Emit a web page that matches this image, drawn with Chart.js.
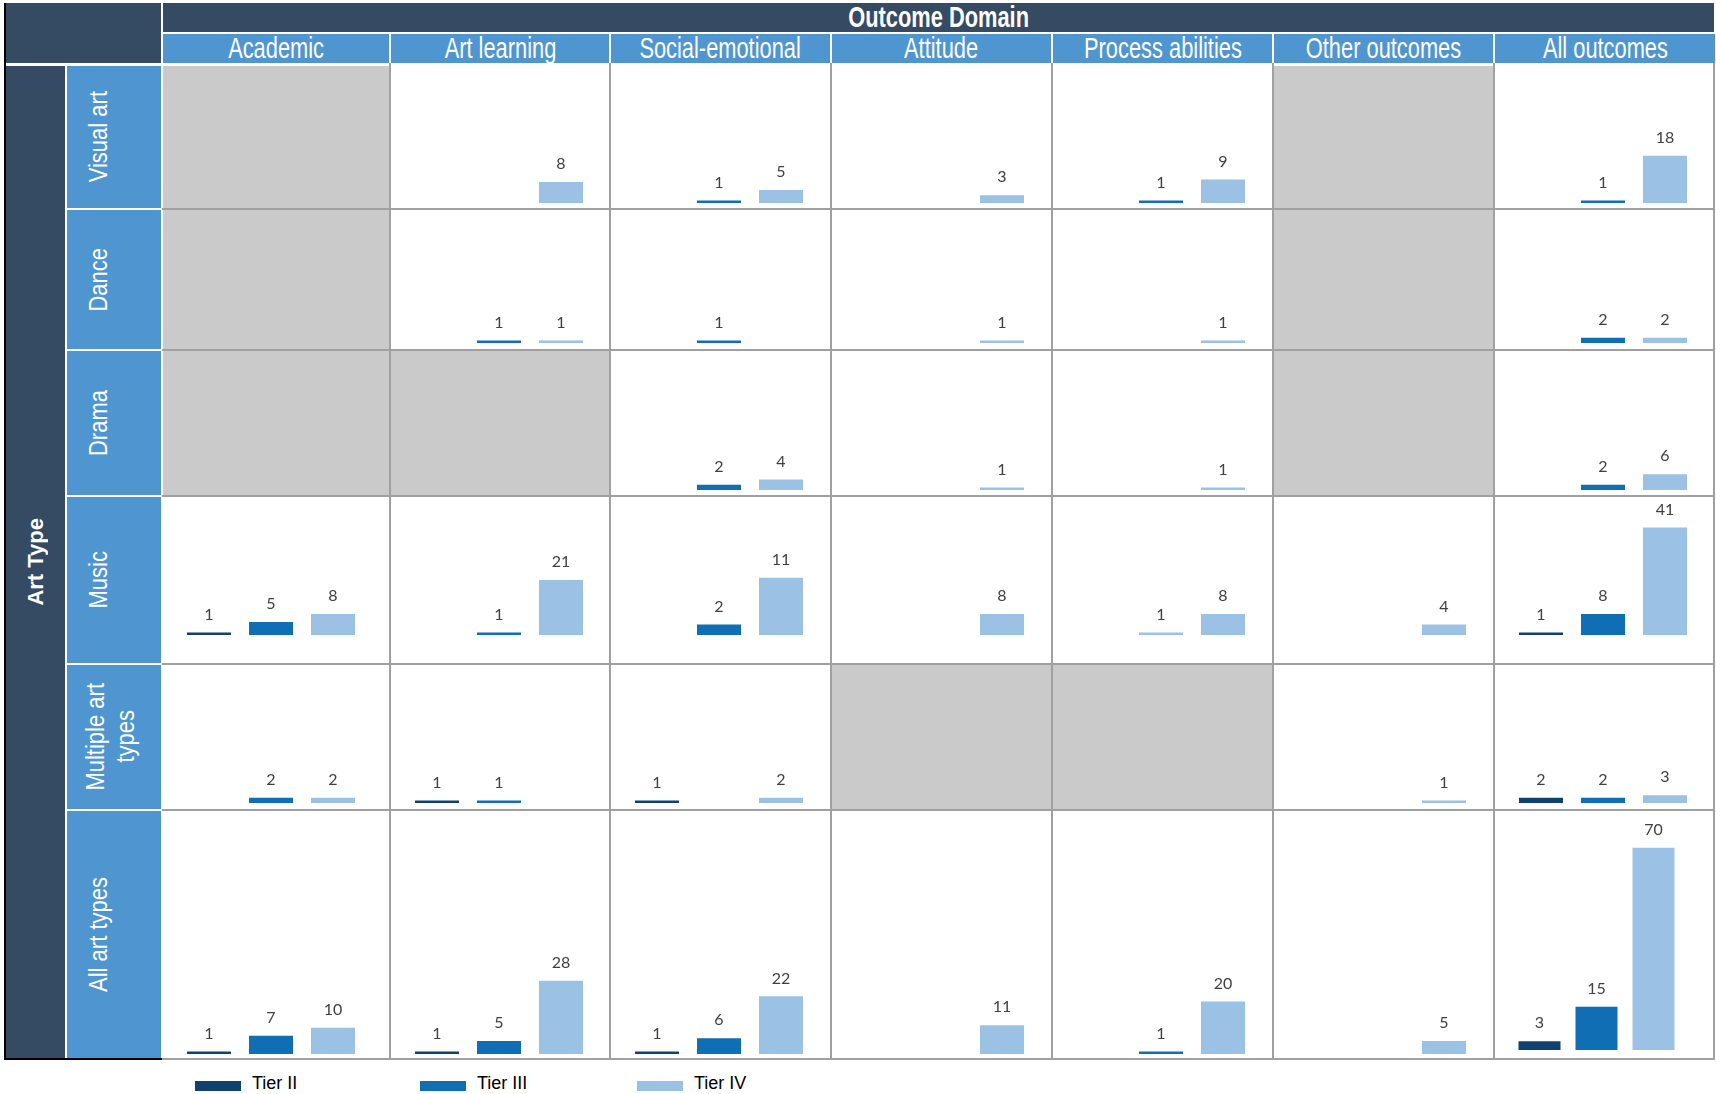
<!DOCTYPE html>
<html>
<head>
<meta charset="utf-8">
<title>Studies by art type and outcome domain</title>
<script src="https://cdn.jsdelivr.net/npm/chart.js@4.4.1/dist/chart.umd.min.js"></script>
<style>
html, body { margin: 0; padding: 0; background: #fff; overflow: hidden; }
#page { position: relative; width: 1716px; height: 1094px; font-family: "Liberation Sans", Arial, sans-serif; }
#page div { position: absolute; box-sizing: border-box; }
.dark { background: #354a63; }
.blue { background: #4f96d0; }
.na { background: #cacaca; }
.line { background: #a0a0a0; }
.head { display: flex; align-items: center; justify-content: center; color: #fff; font-size: 26px; }
.head span { display: inline-block; transform: scale(0.84, 1.1); white-space: nowrap; }
.side { display: flex; align-items: center; justify-content: flex-start; color: #fff; font-size: 22px; }
.side span { writing-mode: vertical-rl; transform: scaleX(1.2) rotate(180deg); text-align: center; line-height: 25px; white-space: nowrap; }
.legtext { font-size: 18px; line-height: 18px; color: #000; white-space: nowrap; }
</style>
</head>
<body>
<div id="page"></div>
<script>
const artTypes = ['Visual art', 'Dance', 'Drama', 'Music', 'Multiple art<br>types', 'All art types'];
const outcomes = ['Academic', 'Art learning', 'Social-emotional', 'Attitude', 'Process abilities', 'Other outcomes', 'All outcomes'];
const tiers = ['Tier II', 'Tier III', 'Tier IV'];

// one row per art type, one entry per outcome domain (null = no bar)
const tierII = [
    [null, null, null, null, null, null, null],
    [null, null, null, null, null, null, null],
    [null, null, null, null, null, null, null],
    [1, null, null, null, null, null, 1],
    [null, 1, 1, null, null, null, 2],
    [1, 1, 1, null, null, null, 3]
];
const tierIII = [
    [null, null, 1, null, 1, null, 1],
    [null, 1, 1, null, null, null, 2],
    [null, null, 2, null, null, null, 2],
    [5, 1, 2, null, 1, null, 8],
    [2, 1, null, null, null, null, 2],
    [7, 5, 6, null, 1, null, 15]
];
const tierIV = [
    [null, 8, 5, 3, 9, null, 18],
    [null, 1, null, 1, 1, null, 2],
    [null, null, 4, 1, 1, null, 6],
    [8, 21, 11, 8, 8, 4, 41],
    [2, null, 2, null, null, 1, 3],
    [10, 28, 22, 11, 20, 5, 70]
];
// grey cells: [art type, outcome]
const notApplicable = [[0, 0], [0, 5], [1, 0], [1, 5], [2, 0], [2, 1], [2, 5], [4, 3], [4, 4]];

// layout
const colX = [162, 390, 610, 831, 1052, 1273, 1494, 1714];
const rowY = [66, 209, 350, 496, 664, 810, 1059];
const rowBase = [203, 343, 490, 635, 803, 1054];
const tierColors = ['#11426f', '#106eb4', '#9bc1e5'];
const pxPerUnit = 2.62;
// a few cells in the original are drawn at their own scale
const cellOverride = {
    '3,2': { ppu: 5.2 },
    '3,4': { colors: ['#11426f', '#9bc1e5', '#9bc1e5'] },
    '5,6': { ppu: 2.89, left: 16.5, width: 171, base: 1050, bar: 0.737 }
};

const page = document.getElementById('page');
function box(cls, x, y, w, h, html) {
    let d = document.createElement('div');
    d.className = cls;
    d.style.left = x + 'px';
    d.style.top = y + 'px';
    d.style.width = w + 'px';
    d.style.height = h + 'px';
    if (html) d.innerHTML = html;
    page.appendChild(d);
    return d;
}

// frame and headers
box('dark', 6, 3, 155, 60);
box('dark head', 163, 3, 1551, 29, '<span style="font-weight:bold">Outcome Domain</span>');
for (let c = 0; c < outcomes.length; c++) {
    let w = colX[c + 1] - colX[c] - 2;
    if (c == outcomes.length - 1) w += 2;
    box('blue head', colX[c] + 1, 34, w, 29, '<span>' + outcomes[c] + '</span>');
}
let at = box('dark side', 6, 66, 59, 992, '<span style="font-weight:bold">Art Type</span>');
at.style.justifyContent = 'center';
at.firstChild.style.transform = 'rotate(180deg)';
for (let r = 0; r < artTypes.length; r++) {
    let top = r == 0 ? rowY[0] : rowY[r] + 1;
    let bottom = r == artTypes.length - 1 ? 1058 : rowY[r + 1] - 1;
    let d = box('blue side', 67, top, 94, bottom - top, '<span>' + artTypes[r] + '</span>');
    d.style.paddingLeft = '18px';
}
box('', 4, 3, 2, 1057).style.background = '#000';
box('', 4, 1058, 158, 2).style.background = '#000';

for (let [r, c] of notApplicable) {
    box('na', colX[c] + 1, rowY[r] + (r == 0 ? 0 : 1), colX[c + 1] - colX[c] - 2, rowY[r + 1] - rowY[r] - (r == 0 ? 1 : 2));
}
for (let c = 1; c < colX.length; c++) box('line', colX[c] - 1, 63, 2, 997);
for (let r = 1; r < rowY.length; r++) box('line', 162, rowY[r] - 1, 1553, 2);

// legend
const legX = [195, 420, 637];
for (let i = 0; i < tiers.length; i++) {
    box('', legX[i], 1081, 46, 10).style.background = tierColors[i];
    box('legtext', legX[i] + 57, 1074, 80, 18, tiers[i]);
}

const valueLabels = {
    id: 'valueLabels',
    afterDatasetsDraw(chart) {
        let ctx = chart.ctx;
        let vals = chart.data.datasets[0].data;
        let meta = chart.getDatasetMeta(0);
        ctx.save();
        ctx.font = '16px Lato, "Open Sans", sans-serif';
        ctx.fillStyle = '#404040';
        ctx.textAlign = 'center';
        ctx.textBaseline = 'middle';
        meta.data.forEach(function (bar, i) {
            if (vals[i] == null) return;
            ctx.fillText(String(vals[i]), bar.x, bar.y - 18);
        });
        ctx.restore();
    }
};

function isNA(r, c) {
    return notApplicable.some(p => p[0] == r && p[1] == c);
}

for (let r = 0; r < artTypes.length; r++) {
    for (let c = 0; c < outcomes.length; c++) {
        if (isNA(r, c)) continue;
        let o = cellOverride[r + ',' + c] || {};
        let left = colX[c] + (o.left || 16);
        let width = o.width || 186;
        let top = rowY[r] + 2;
        let base = o.base || rowBase[r];
        let height = base - top;
        let _div = box('', left, top, width, height);
        let _canvas = document.createElement('canvas');
        _canvas.width = width;
        _canvas.height = height;
        _canvas.style.width = width + 'px';
        _canvas.style.height = height + 'px';
        _div.appendChild(_canvas);
        let values = [tierII[r][c], tierIII[r][c], tierIV[r][c]];
        new Chart(_canvas, {
            type: 'bar',
            data: {
                labels: tiers,
                datasets: [{
                    data: values,
                    backgroundColor: o.colors || tierColors,
                    borderWidth: 0,
                    barPercentage: o.bar || 0.71,
                    categoryPercentage: 1
                }]
            },
            options: {
                responsive: false,
                animation: false,
                events: [],
                layout: { padding: 0 },
                plugins: {
                    legend: { display: false },
                    tooltip: { enabled: false }
                },
                scales: {
                    x: { display: false },
                    y: { display: false, min: 0, max: height / (o.ppu || pxPerUnit) }
                }
            },
            plugins: [valueLabels]
        });
    }
}
</script>
</body>
</html>
